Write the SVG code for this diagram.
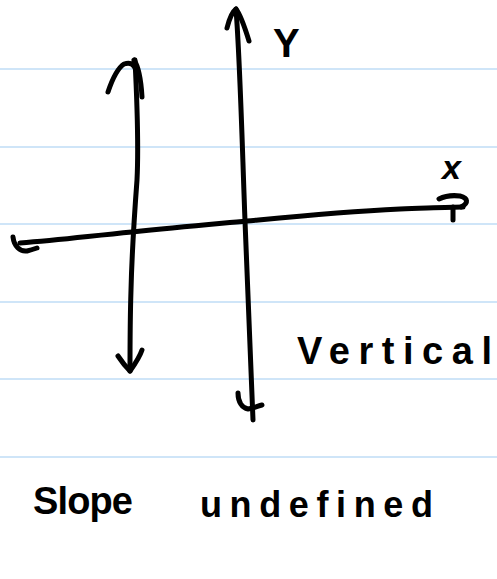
<svg xmlns="http://www.w3.org/2000/svg" width="497" height="579" viewBox="0 0 497 579">
<style>
.rule{stroke:#cfe5f8;stroke-width:2}
.ink{fill:none;stroke:#000;stroke-width:5;stroke-linecap:round;stroke-linejoin:round}
.lbl{font-family:"Liberation Sans",Arial,sans-serif;fill:#000;font-weight:bold}
</style>
<rect width="497" height="579" fill="#fff"/>
<g id="paper">
<line class="rule" x1="0" y1="69" x2="497" y2="69"/>
<line class="rule" x1="0" y1="147" x2="497" y2="147"/>
<line class="rule" x1="0" y1="224" x2="497" y2="224"/>
<line class="rule" x1="0" y1="302" x2="497" y2="302"/>
<line class="rule" x1="0" y1="379" x2="497" y2="379"/>
<line class="rule" x1="0" y1="457" x2="497" y2="457"/>
</g>
<g id="connectors">
<g id="x-axis">
<path class="ink" d="M20,243 C60,240 90,236 132,232 C180,227 215,224 247,221 C300,216 340,212 400,209 C430,208 450,207 463,207"/>
<path class="ink" d="M13,237 C14,246 20,252 27,251 C31,250 34,249 37,248"/>
<path class="ink" d="M439,199 C445,196 452,195 460,196 C468,198 469,203 461,207 M453,207 L453,220"/>
</g>
<g id="y-axis">
<path class="ink" d="M236,9 C240,60 242,140 245,221 C248,300 250,360 253,420"/>
<path class="ink" d="M227,28 C229,20 232,12 236,9 C240,14 245,28 249,41"/>
<path class="ink" d="M238,393 C238,402 242,408 248,409 C254,408 258,406 262,405"/>
</g>
<g id="vertical-line">
<path class="ink" d="M135,60 C137,100 139,140 137,180 C134,220 132,250 131,290 C130,320 130,345 130,371"/>
<path class="ink" d="M108,92 C112,80 118,68 124,64 C130,62 134,64 136,70 M134,60 C138,66 141,80 142,97"/>
<path class="ink" d="M118,356 C122,362 126,367 130,371 C135,364 140,356 142,350"/>
</g>
</g>
<g id="label-y"><text class="lbl" x="273" y="57" font-size="40" font-weight="normal">Y</text></g>
<g id="label-x"><text class="lbl" x="442" y="179" font-size="34" font-style="italic">x</text></g>
<g id="label-vertical"><text class="lbl" x="297" y="364" font-size="38" textLength="195" lengthAdjust="spacing">Vertical</text></g>
<g id="label-slope"><text class="lbl" x="33" y="514" font-size="38" textLength="100" lengthAdjust="spacing">Slope</text><text class="lbl" x="200" y="517" font-size="36" textLength="233" lengthAdjust="spacing">undefined</text></g>
</svg>
